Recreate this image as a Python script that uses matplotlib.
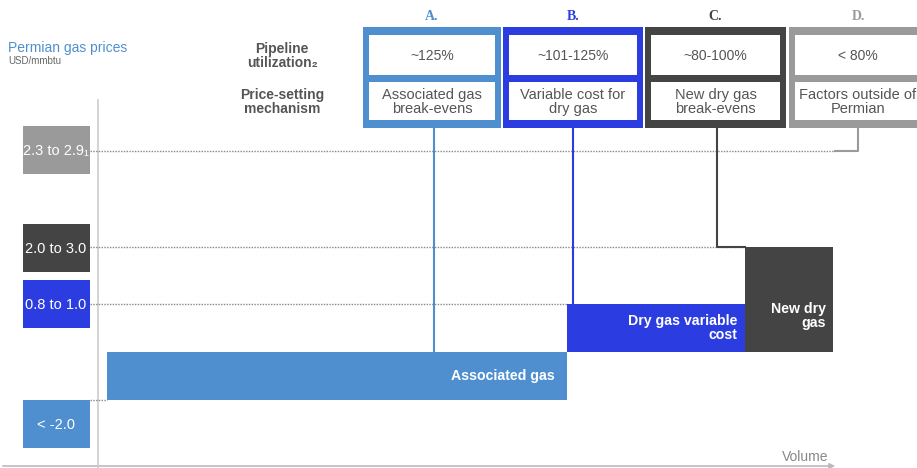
import matplotlib.pyplot as plt
from matplotlib.patches import Rectangle, FancyArrowPatch

plt.rcParams['font.family'] = ['Liberation Sans', 'DejaVu Sans']

# Colours
LIGHT = '#4f8fd0'
BLUE = '#2b3de0'
DARK = '#444444'
GREY = '#9a9a9a'

# Price buckets on the left (level = chart row in px, top of box)
price_labels = ["2.3 to 2.9\u2081", "2.0 to 3.0", "0.8 to 1.0", "< -2.0"]
price_colors = [GREY, DARK, BLUE, LIGHT]
price_box_top = [126, 224, 280, 400]
price_line_y = [151, 247, 304, 400]
price_line_end = [835, 745, 567, 107]

# Supply steps (volume start/end, price level top/bottom)
step_names = ["Associated gas", "Dry gas variable\ncost", "New dry\ngas"]
step_colors = [LIGHT, BLUE, DARK]
step_x0 = [107, 567, 745]
step_x1 = [567, 745, 833]
step_top = [352, 304, 247]
step_bottom = [400, 352, 352]
step_label_x = [555, 737, 826]
step_label_y = [376, 328, 316]

# Regimes A-D
regimes = ["A.", "B.", "C.", "D."]
regime_colors = [LIGHT, BLUE, DARK, GREY]
regime_x0 = [363, 503, 645, 789]
regime_x1 = [501, 643, 786, 925]
utilization = ["~125%", "~101-125%", "~80-100%", "< 80%"]
mechanism = ["Associated gas\nbreak-evens", "Variable cost for\ndry gas",
             "New dry gas\nbreak-evens", "Factors outside of\nPermian"]
connector_x = [434, 573, 717, 858]
connector_end_y = [352, 304, 247, 151]
connector_end_x = [434, 573, 745, 835]

fig = plt.figure(figsize=(9.17, 4.68), dpi=100)
ax = fig.add_axes([0, 0, 1, 1])
ax.set_xlim(0, 917)
ax.set_ylim(468, 0)
ax.axis('off')

# Title on the left
ax.text(8, 48, "Permian gas prices", color=LIGHT, fontsize=10, va='center')
ax.text(8, 61, "USD/mmbtu", color='#666666', fontsize=7, va='center')

# Row headers
ax.text(282, 56, "Pipeline\nutilization\u2082", color='#555555', fontsize=10,
        fontweight='bold', ha='center', va='center', linespacing=1.0)
ax.text(282, 102, "Price-setting\nmechanism", color='#555555', fontsize=10,
        fontweight='bold', ha='center', va='center', linespacing=1.0)

# Axes lines
ax.plot([98, 98], [100, 468], color='#cccccc', lw=1.2)
arr = FancyArrowPatch((0, 466), (838, 466), arrowstyle='-|>', mutation_scale=8,
                      color='#bbbbbb', lw=1.2)
ax.add_patch(arr)
ax.text(828, 457, "Volume", color='#888888', fontsize=10, ha='right', va='center')

# Dotted guide lines
for y, xe in zip(price_line_y, price_line_end):
    ax.plot([90, xe], [y, y], color='#888888', lw=1, ls=(0, (1, 1)))

# Price boxes
for lab, c, top in zip(price_labels, price_colors, price_box_top):
    ax.add_patch(Rectangle((23, top), 67, 48, color=c, lw=0))
    ax.text(56, top + 25, lab, color='white', fontsize=10.5, ha='center', va='center')

# Supply steps
for name, c, x0, x1, t, b, lx, ly in zip(step_names, step_colors, step_x0, step_x1,
                                         step_top, step_bottom, step_label_x, step_label_y):
    ax.add_patch(Rectangle((x0, t), x1 - x0, b - t, color=c, lw=0))
    ax.text(lx, ly, name, color='white', fontsize=10.2, fontweight='bold',
            ha='right', va='center', linespacing=1.0)

# Connectors
for cx, ey, ex, c in zip(connector_x, connector_end_y, connector_end_x, regime_colors):
    ax.plot([cx, cx, ex], [128, ey, ey], color=c, lw=1.5)

# Regime boxes
for lab, c, x0, x1, u, m in zip(regimes, regime_colors, regime_x0, regime_x1,
                                utilization, mechanism):
    ax.add_patch(Rectangle((x0, 27), x1 - x0, 101, color=c, lw=0))
    ax.add_patch(Rectangle((x0 + 6, 35), x1 - x0 - 12, 40, color='white', lw=0))
    ax.add_patch(Rectangle((x0 + 6, 82), x1 - x0 - 12, 38, color='white', lw=0))
    cx = (x0 + x1) / 2 if x1 < 917 else 858
    ax.text(cx, 17, lab, color=c, fontsize=10, fontweight='bold',
            family='Liberation Serif', ha='center', va='center')
    ax.text(cx, 56, u, color='#555555', fontsize=10, ha='center', va='center')
    ax.text(cx, 102, m, color='#555555', fontsize=10.5, ha='center', va='center',
            linespacing=1.0)

fig.savefig("out.png", dpi=100)
